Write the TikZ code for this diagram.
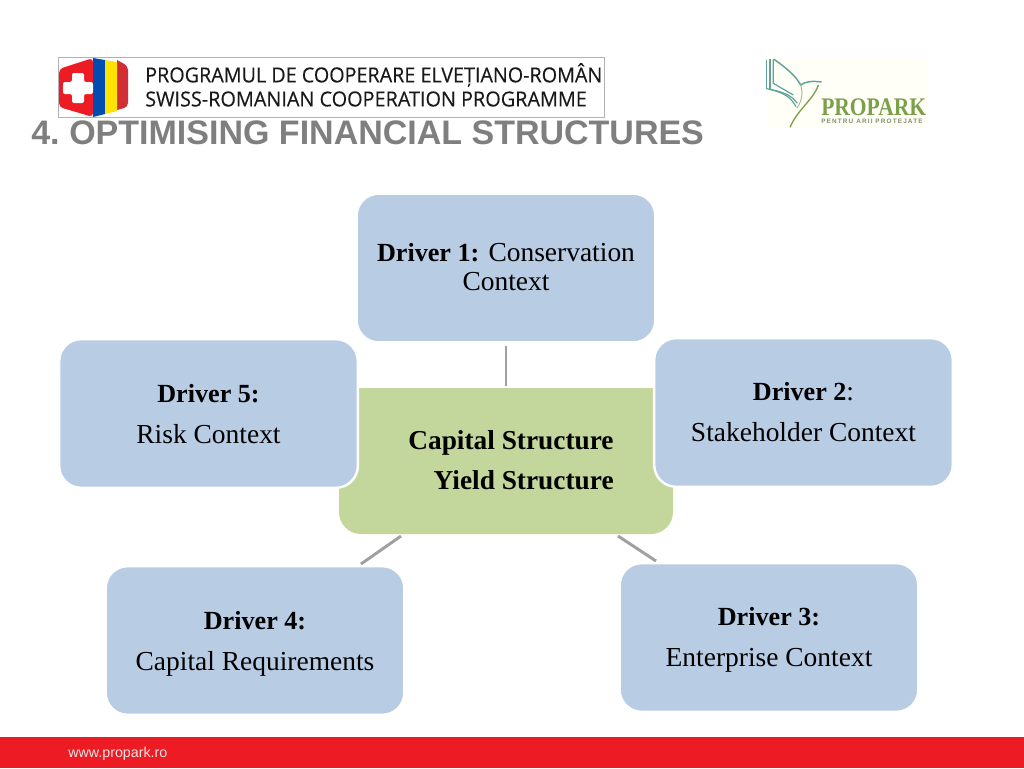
\documentclass[tikz,border=0pt]{standalone}
\usepackage{fontspec}
\setmainfont{Liberation Serif}
\setsansfont{Liberation Sans}
\newfontfamily\logofont[FakeBold=0.25]{Open Sans}
\newfontfamily\spacedfont[LetterSpace=18]{Liberation Sans}
\definecolor{driverblue}{HTML}{B8CCE4}
\definecolor{hubgreen}{HTML}{C3D69B}
\definecolor{linkgray}{HTML}{A0A0A0}
\definecolor{titlegray}{HTML}{7F7F7F}
\definecolor{footred}{HTML}{ED1C24}
\definecolor{teal1}{HTML}{5FA39B}
\definecolor{leaf}{HTML}{7BA04A}
\newcommand{\dbf}[1]{{\fontsize{19.6}{30.75}\selectfont\bfseries #1}}
\tikzset{
  px/.style={x=0.75pt,y=-0.75pt},
  driverbox/.style={draw=white,line width=1.8pt,fill=driverblue,rounded corners=16.5pt,minimum width=224pt,minimum height=111.5pt,inner sep=0pt},
  drivertext/.style={align=center,inner sep=0pt,font=\fontsize{20.6}{30.75}\selectfont},
  drivertexttight/.style={align=center,inner sep=0pt,font=\fontsize{20.6}{21.75}\selectfont},
  hubbox/.style={fill=hubgreen,rounded corners=16.5pt,minimum width=250.5pt,minimum height=109.5pt,inner sep=0pt},
  hubtext/.style={align=right,inner sep=0pt,font=\fontsize{20.5}{30}\selectfont\bfseries},
  link/.style={draw=linkgray,line width=2.2pt}
}
\begin{document}
\begin{tikzpicture}[px]
\useasboundingbox (0,0) rectangle (1024,768);
\fill[white] (0,0) rectangle (1024,768);
% Swiss-Romanian logo
\node[draw=black!30,line width=0.6pt,minimum width=410pt,minimum height=44.5pt,inner sep=0pt] (logobox) at (331.5,87.5) {};
\fill[footred,rounded corners=3pt] (93,58) -- (59,69) -- (59,107) -- (93,117) -- cycle;
\fill[footred!85!black!90] (117,60) [rounded corners=3pt] -- (128,66) -- (128,107) [sharp corners] -- (117,110) -- cycle;
\fill[blue!55!black!70!cyan] (93,58) -- (105,60) -- (105,114) -- (93,117) -- cycle;
\fill[yellow!85!orange] (105,60) -- (117,62) -- (117,111) -- (105,114) -- cycle;
\fill[white,rounded corners=1.5pt] (72,73) -- (84,73) -- (84,82) -- (93,82) -- (93,94) -- (84,94) -- (84,103) -- (72,103) -- (72,94) -- (63,94) -- (63,82) -- (72,82) -- cycle;
\node[anchor=west,inner sep=0pt,font=\logofont\fontsize{15.5}{15.5}\selectfont,text=black!90] (logoa) at (145,75) {\scalebox{0.955}[1]{PROGRAMUL DE COOPERARE ELVEȚIANO-ROMÂN}};
\node[anchor=west,inner sep=0pt,font=\logofont\fontsize{15.5}{15.5}\selectfont,text=black!90] (logob) at (145,99) {\scalebox{0.96}[1]{SWISS-ROMANIAN COOPERATION PROGRAMME}};
% Title
\node[anchor=base west,inner sep=0pt,font=\sffamily\bfseries\fontsize{25.5}{30}\selectfont,text=titlegray] (title) at (31,144) {4.\hspace{-2.2pt} OPTIMISING FINANCIAL STRUCTURES};
% Propark logo
\fill[yellow!3] (767,57) rectangle (927,128);
\begin{scope}[shift={(740,40)},x=0.25pt,y=-0.25pt]
  \draw[teal1,line width=0.9pt] (80,60) -- (80,146);
  \draw[teal1,line width=0.9pt] (90,58) -- (90,148);
  \draw[teal1,line width=0.9pt] (100,58) -- (100,130) -- (160,165);
  \draw[teal1,line width=1.1pt] (102,58) .. controls (140,85) and (165,105) .. (182,135) .. controls (195,125) and (215,122) .. (245,126);
  \draw[teal1,line width=0.9pt] (80,146) .. controls (120,155) and (150,165) .. (168,200);
  \draw[teal1,line width=0.9pt] (90,148) .. controls (125,155) and (155,165) .. (172,190);
  \draw[leaf,line width=1pt] (235,135) .. controls (220,180) and (175,205) .. (150,262);
  \draw[leaf!70,line width=0.7pt] (182,135) .. controls (190,160) and (185,185) .. (170,205);
  \node[anchor=base west,inner sep=0pt,font=\bfseries\fontsize{19}{19}\selectfont,text=leaf] (propark) at (243,225) {\scalebox{0.85}[1]{PROPARK}};
  \node[anchor=base west,inner sep=0pt,font=\spacedfont\bfseries\fontsize{4.8}{5}\selectfont,text=leaf!60!black!70] (pentru) at (243,250) {PENTRU ARII PROTEJATE};
\end{scope}
% Diagram
\node[hubbox] (hub) at (506,461) {};
\node[driverbox,label={[drivertexttight,yshift=0.75pt]center:{{\fontsize{19.6}{21.75}\selectfont\bfseries Driver 1:} Conservation\\Context}}] (d1) at (506,268) {};
\node[driverbox,label={[drivertext,yshift=-0.2pt]center:{\dbf{Driver 5:}\\Risk Context}}] (d5) at (208.5,413.5) {};
\node[driverbox,label={[drivertext,yshift=0.5pt]center:{\dbf{Driver 2}:\\Stakeholder Context}}] (d2) at (803.5,412.5) {};
\node[driverbox,label={[drivertext,yshift=-2.3pt]center:{\dbf{Driver 4:}\\Capital Requirements}}] (d4) at (255,640.5) {};
\node[driverbox,label={[drivertext,yshift=-1.5pt]center:{\dbf{Driver 3:}\\Enterprise Context}}] (d3) at (769,637.5) {};
\node[hubtext] (hublabel) at (511,460) {Capital Structure\\Yield Structure\hspace{1.5pt}};
\coordinate (hubl) at (401,536);
\coordinate (d4t) at (361,564);
\coordinate (hubr) at (618,536);
\coordinate (d3t) at (656,561);
\draw[link,shorten <=2pt,shorten >=1.5pt] (d1.south) -- (hub.north);
\draw[link] (hubl) -- (d4t);
\draw[link] (hubr) -- (d3t);
% Footer
\fill[footred] (0,737) rectangle (1024,768);
\node[anchor=base west,inner sep=0pt,font=\sffamily\fontsize{10.7}{12}\selectfont,text=white!90!black] (web) at (68,757) {www.propark.ro};
\end{tikzpicture}
\end{document}
